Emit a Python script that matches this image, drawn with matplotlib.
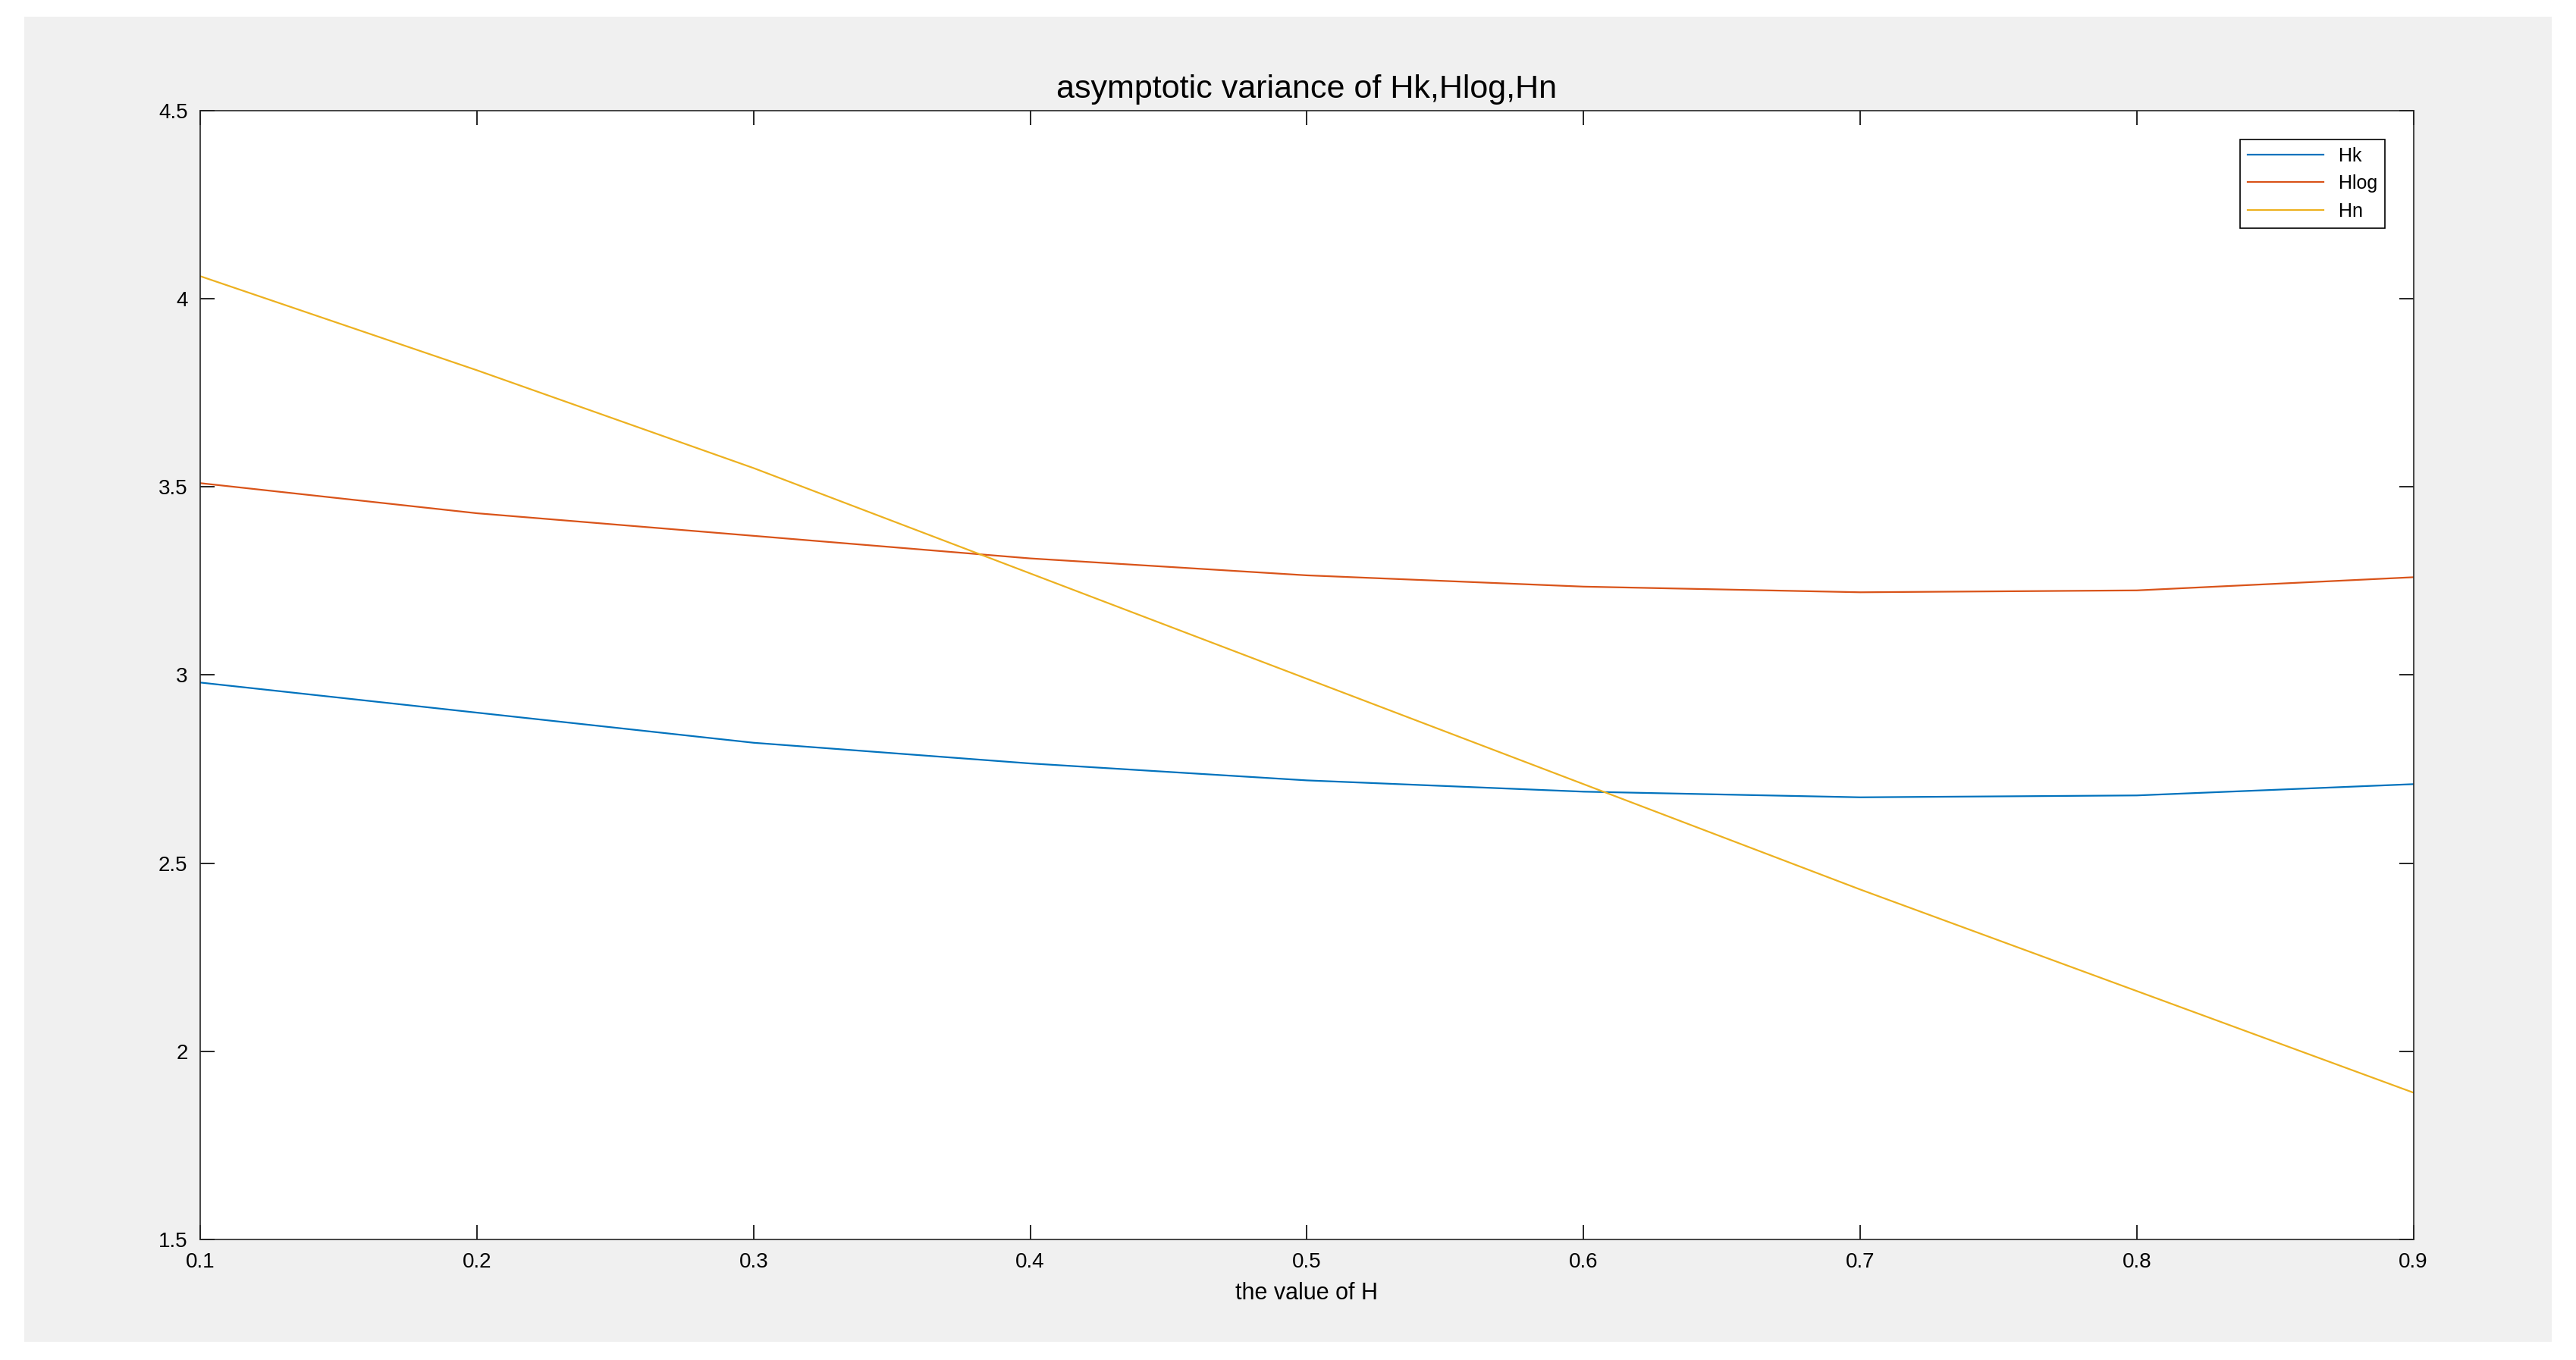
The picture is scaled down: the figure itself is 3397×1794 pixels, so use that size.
import matplotlib.pyplot as plt
from matplotlib.patches import Rectangle

plt.rcParams['font.family'] = ['Liberation Sans', 'DejaVu Sans']

H = [0.1, 0.2, 0.3, 0.4, 0.5, 0.6, 0.7, 0.8, 0.9]
Hk = [2.98, 2.90, 2.82, 2.765, 2.72, 2.69, 2.675, 2.68, 2.71]
Hlog = [3.51, 3.43, 3.37, 3.31, 3.265, 3.235, 3.22, 3.225, 3.26]
Hn = [4.06, 3.81, 3.55, 3.27, 2.99, 2.71, 2.43, 2.16, 1.89]

fig = plt.figure(figsize=(33.97, 17.94), dpi=100, facecolor='white')
fig.patches.append(Rectangle((15/1568, 1-812/823), (1553-15)/1568, (812-10)/823,
                             transform=fig.transFigure, facecolor='#f0f0f0',
                             edgecolor='none', zorder=-1))
ax = fig.add_axes([0.0778, 0.0887, 0.9369-0.0778, 0.9186-0.0887])
ax.set_facecolor('white')

ax.plot(H, Hk, color='#0072BD', lw=1.6, label='Hk')
ax.plot(H, Hlog, color='#D95319', lw=1.6, label='Hlog')
ax.plot(H, Hn, color='#EDB120', lw=1.6, label='Hn')

ax.set_xlim(0.1, 0.9)
ax.set_ylim(1.5, 4.5)
ax.set_xticks([0.1, 0.2, 0.3, 0.4, 0.5, 0.6, 0.7, 0.8, 0.9])
ax.set_yticks([1.5, 2, 2.5, 3, 3.5, 4, 4.5])
ax.set_yticklabels(['1.5', '2', '2.5', '3', '3.5', '4', '4.5'])
ax.tick_params(direction='in', top=True, right=True, length=14, width=1.2,
               labelsize=20, pad=12)
for s in ax.spines.values():
    s.set_linewidth(1.2)
    s.set_color('#262626')

ax.set_title('asymptotic variance of Hk,Hlog,Hn', fontsize=31, pad=12)
ax.set_xlabel('the value of H', fontsize=22, labelpad=10)

leg = ax.legend(loc='upper right', fontsize=18, fancybox=False, framealpha=1,
                edgecolor='black', handlelength=4, borderaxespad=1.5)
leg.get_frame().set_linewidth(1.2)

fig.savefig('out.png', dpi=100, facecolor=fig.get_facecolor())
